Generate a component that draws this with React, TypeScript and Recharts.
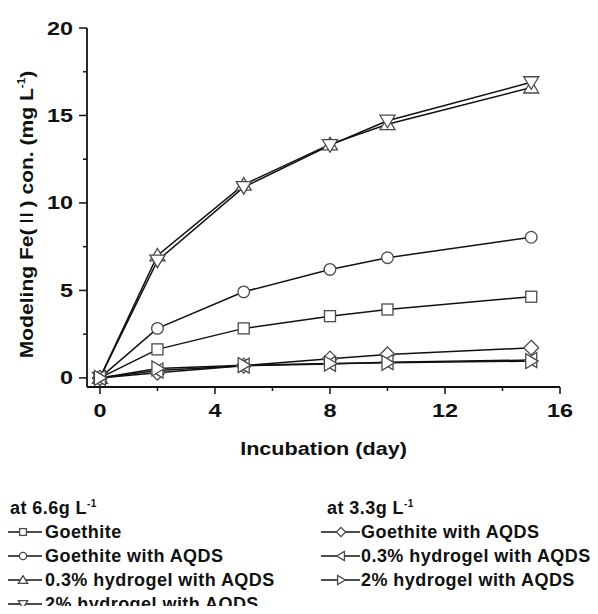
import { LineChart, Line, XAxis, YAxis } from "recharts";

const days = [0, 2, 5, 8, 10, 15];

// at 6.6 g/L
const goethite66 = [0, 1.63, 2.83, 3.53, 3.91, 4.64];
const goethiteAqds66 = [0, 2.83, 4.92, 6.2, 6.87, 8.04];
const hydrogel03Aqds66 = [0, 7.0, 11.05, 13.35, 14.5, 16.6];
const hydrogel2Aqds66 = [0, 6.7, 10.9, 13.3, 14.7, 16.9];

// at 3.3 g/L
const goethiteAqds33 = [0, 0.3, 0.7, 1.1, 1.34, 1.72];
const hydrogel03Aqds33 = [0, 0.42, 0.7, 0.8, 0.9, 1.02];
const hydrogel2Aqds33 = [0, 0.54, 0.73, 0.82, 0.86, 0.96];

const xTicks = [0, 2, 4, 6, 8, 10, 12, 14, 16];
const yTicks = [0, 2.5, 5, 7.5, 10, 12.5, 15, 17.5, 20];

const series = [
  { key: "g66", name: "Goethite", shape: "square", values: goethite66, group: 0 },
  { key: "ga66", name: "Goethite with AQDS", shape: "circle", values: goethiteAqds66, group: 0 },
  { key: "h03_66", name: "0.3% hydrogel with AQDS", shape: "up", values: hydrogel03Aqds66, group: 0 },
  { key: "h2_66", name: "2% hydrogel with AQDS", shape: "down", values: hydrogel2Aqds66, group: 0 },
  { key: "ga33", name: "Goethite with AQDS", shape: "diamond", values: goethiteAqds33, group: 1 },
  { key: "h03_33", name: "0.3% hydrogel with AQDS", shape: "left", values: hydrogel03Aqds33, group: 1 },
  { key: "h2_33", name: "2% hydrogel with AQDS", shape: "right", values: hydrogel2Aqds33, group: 1 },
];

const data = days.map((day, i) => {
  const row: Record<string, number> = { day };
  series.forEach((s) => (row[s.key] = s.values[i]));
  return row;
});

const FONT = '"Liberation Sans", Arial, sans-serif';
const INK = "#111";
const MARK = "#4a4a4a";

const Marker = ({ shape, cx, cy, k = 1 }: { shape: string; cx: number; cy: number; k?: number }) => {
  const p = { fill: "#fff", stroke: MARK, strokeWidth: 1.3 };
  const pts = (a: number[][]) => a.map(([dx, dy]) => `${cx + dx * k},${cy + dy * k}`).join(" ");
  switch (shape) {
    case "square":
      return <rect x={cx - 5.5 * k} y={cy - 5.5 * k} width={11 * k} height={11 * k} {...p} />;
    case "circle":
      return <circle cx={cx} cy={cy} r={5.8 * k} {...p} />;
    case "up":
      return <polygon points={pts([[0, -7], [-7.5, 5.5], [7.5, 5.5]])} {...p} />;
    case "down":
      return <polygon points={pts([[0, 7], [-7.5, -5.5], [7.5, -5.5]])} {...p} />;
    case "left":
      return <polygon points={pts([[-7, 0], [5.5, -7.5], [5.5, 7.5]])} {...p} />;
    case "right":
      return <polygon points={pts([[7, 0], [-5.5, -7.5], [-5.5, 7.5]])} {...p} />;
    default:
      return <polygon points={pts([[0, -7.5], [7.5, 0], [0, 7.5], [-7.5, 0]])} {...p} />;
  }
};

const XTick = ({ x, y, payload }: any) => {
  const major = payload.value % 4 === 0;
  return (
    <g>
      <line x1={x} x2={x} y1={y} y2={y + (major ? 7 : 4)} stroke={INK} strokeWidth={1.5} />
      {major && (
        <text
          transform={`translate(${x},${y + 30}) scale(1.3,1)`}
          textAnchor="middle"
          fontFamily={FONT}
          fontWeight="bold"
          fontSize={18}
          fill={INK}
        >
          {payload.value}
        </text>
      )}
    </g>
  );
};

const YTick = ({ x, y, payload }: any) => {
  const major = payload.value % 5 === 0;
  return (
    <g>
      <line x1={x} x2={x - (major ? 8 : 4)} y1={y} y2={y} stroke={INK} strokeWidth={1.5} />
      {major && (
        <text
          transform={`translate(${x - 14},${y + 6.5}) scale(1.3,1)`}
          textAnchor="end"
          fontFamily={FONT}
          fontWeight="bold"
          fontSize={18}
          fill={INK}
        >
          {payload.value}
        </text>
      )}
    </g>
  );
};

const XTitle = ({ viewBox }: any) => (
  <text
    transform={`translate(${viewBox.x + viewBox.width / 2},${viewBox.y + 68}) scale(1.2,1)`}
    textAnchor="middle"
    fontFamily={FONT}
    fontWeight="bold"
    fontSize={18}
    fill={INK}
  >
    Incubation (day)
  </text>
);

const YTitle = ({ viewBox }: any) => (
  <text
    transform={`translate(25,${viewBox.y + viewBox.height / 2 + 7}) rotate(-90) scale(1.17,1)`}
    textAnchor="middle"
    fontFamily={FONT}
    fontWeight="bold"
    fontSize={18}
    fill={INK}
  >
    Modeling Fe(
    <tspan fontFamily='"Noto Sans CJK SC", sans-serif' fontWeight="normal">Ⅱ</tspan>
    ) con. (mg L
    <tspan fontSize={10} dy={-8}>-1</tspan>
    <tspan dy={8}>)</tspan>
  </text>
);

const LegendIcon = ({ shape }: { shape: string }) => (
  <svg width={39} height={16} style={{ display: "block" }}>
    <line x1={0} x2={39} y1={8} y2={8} stroke={INK} strokeWidth={1.3} />
    <Marker shape={shape} cx={20} cy={8} k={0.62} />
  </svg>
);

const textStyle = {
  fontFamily: FONT,
  fontWeight: "bold" as const,
  fontSize: 18,
  letterSpacing: 0.45,
  color: INK,
  lineHeight: "20px",
  whiteSpace: "nowrap" as const,
};

const legendCols = [
  { title: "at 6.6g L", titleLeft: 2, iconLeft: -5, textLeft: 37 },
  { title: "at 3.3g L", titleLeft: 319, iconLeft: 313, textLeft: 353 },
];

const App = () => {
  return (
    <div style={{ position: "relative", width: 590, height: 606, marginBottom: -8, overflow: "hidden" }}>
      <LineChart width={590} height={606} data={data} margin={{ top: 20, right: 38, left: 0, bottom: 197 }}>
        <XAxis
          type="number"
          dataKey="day"
          domain={[-0.45, 16]}
          allowDataOverflow
          ticks={xTicks}
          interval={0}
          tickSize={0}
          tickMargin={0}
          tickLine={false}
          tick={<XTick />}
          height={30}
          axisLine={{ stroke: INK, strokeWidth: 1.8 }}
          label={<XTitle />}
        />
        <YAxis
          type="number"
          domain={[-0.52, 20]}
          allowDataOverflow
          ticks={yTicks}
          interval={0}
          tickSize={0}
          tickMargin={0}
          tickLine={false}
          tick={<YTick />}
          width={79}
          axisLine={{ stroke: INK, strokeWidth: 1.8 }}
          label={<YTitle />}
        />
        {series.map((s) => (
          <Line
            key={s.key}
            dataKey={s.key}
            name={s.name}
            type="linear"
            stroke={INK}
            strokeWidth={1.5}
            isAnimationActive={false}
            dot={(p: any) => <Marker key={`${s.key}-${p.index}`} shape={s.shape} cx={p.cx} cy={p.cy} />}
            activeDot={false}
          />
        ))}
      </LineChart>
      {legendCols.map((c, gi) => (
        <div key={gi}>
          <div style={{ ...textStyle, position: "absolute", top: 490, left: c.titleLeft }}>
            {c.title}
            <sup style={{ fontSize: 10, verticalAlign: "7px", lineHeight: 0 }}>-1</sup>
          </div>
          {series
            .filter((s) => s.group === gi)
            .map((s, i) => (
              <div key={s.key}>
                <div style={{ position: "absolute", top: 514 + i * 24 + 2, left: c.iconLeft }}>
                  <LegendIcon shape={s.shape} />
                </div>
                <div style={{ ...textStyle, position: "absolute", top: 514 + i * 24, left: c.textLeft }}>
                  {s.name}
                </div>
              </div>
            ))}
        </div>
      ))}
    </div>
  );
};

export default App;
